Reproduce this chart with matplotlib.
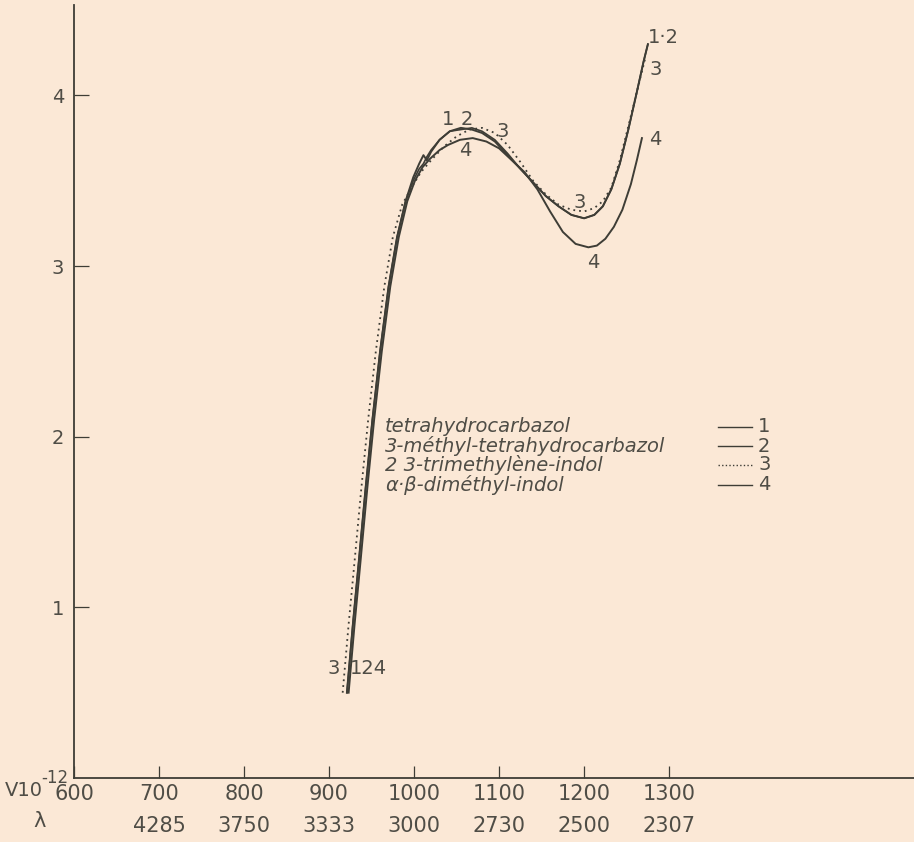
import matplotlib
matplotlib.use("Agg")
import matplotlib.pyplot as plt
from matplotlib import font_manager
from matplotlib.lines import Line2D

# frequency nu (x 10^12) and log extinction
x1 = [921, 928, 935, 943, 951, 960, 970, 980, 990, 999, 1006, 1011, 1015, 1020, 1030, 1042,
      1055, 1068, 1080, 1095, 1110, 1125, 1140, 1155, 1170, 1185, 1200, 1212, 1222, 1232,
      1242, 1252, 1262, 1270, 1275]
y1 = [0.5, 0.9, 1.27, 1.7, 2.1, 2.5, 2.88, 3.17, 3.38, 3.52, 3.6, 3.65, 3.62, 3.67, 3.74, 3.79,
      3.81, 3.80, 3.78, 3.73, 3.65, 3.57, 3.49, 3.41, 3.35, 3.30, 3.28, 3.30, 3.35, 3.45,
      3.6, 3.8, 4.02, 4.2, 4.3]
x2 = x1
y2 = [0.5, 0.9, 1.27, 1.7, 2.1, 2.5, 2.88, 3.17, 3.38, 3.5, 3.57, 3.6, 3.64, 3.68, 3.74, 3.79,
      3.80, 3.81, 3.79, 3.74, 3.66, 3.57, 3.49, 3.41, 3.35, 3.30, 3.28, 3.30, 3.35, 3.45,
      3.6, 3.8, 4.02, 4.2, 4.3]
x3 = [916, 923, 930, 938, 946, 955, 965, 975, 986, 997, 1008, 1020, 1035, 1050, 1065, 1080,
      1095, 1110, 1125, 1140, 1155, 1170, 1185, 1200, 1212, 1222, 1232, 1242, 1252, 1262, 1272]
y3 = [0.5, 0.9, 1.27, 1.7, 2.1, 2.5, 2.88, 3.17, 3.36, 3.46, 3.55, 3.62, 3.7, 3.76, 3.8, 3.81,
      3.78, 3.71, 3.61, 3.5, 3.42, 3.36, 3.33, 3.32, 3.34, 3.38, 3.46, 3.62, 3.82, 4.02, 4.22]
x4 = [923, 930, 937, 945, 953, 962, 972, 982, 992, 1001, 1010, 1019, 1030, 1040, 1054, 1069,
      1085, 1100, 1115, 1130, 1145, 1160, 1175, 1190, 1205, 1215, 1225, 1235, 1245, 1255,
      1262, 1268]
y4 = [0.5, 0.9, 1.27, 1.7, 2.1, 2.5, 2.88, 3.17, 3.38, 3.5, 3.58, 3.63, 3.68, 3.71, 3.74, 3.75,
      3.73, 3.69, 3.62, 3.55, 3.45, 3.32, 3.2, 3.13, 3.11, 3.12, 3.16, 3.23, 3.33, 3.48,
      3.62, 3.75]

nu_ticks = [600, 700, 800, 900, 1000, 1100, 1200, 1300]
lambda_labels = ["", "4285", "3750", "3333", "3000", "2730", "2500", "2307"]
y_ticks = [1, 2, 3, 4]

names = ["tetrahydrocarbazol", "3-méthyl-tetrahydrocarbazol",
         "2 3-trimethylène-indol", "α·β-diméthyl-indol"]
numbers = ["1", "2", "3", "4"]

paper = "#fbe8d6"
ink = "#3e3d36"
txt = "#4f4d46"

# narrow face for the numbers if there is one
have = {f.name for f in font_manager.fontManager.ttflist}
num_font = "Liberation Sans Narrow" if "Liberation Sans Narrow" in have else "DejaVu Sans"

fig = plt.figure(figsize=(9.14, 8.42), dpi=100, facecolor=paper)
ax = fig.add_axes([74/914, 1 - 778/842, 1 - 74/914, 773/842])
ax.set_facecolor(paper)

ax.plot(x1, y1, color=ink, lw=1.4)
ax.plot(x2, y2, color=ink, lw=1.2)
ax.plot(x3, y3, color=ink, lw=1.3, ls=(0, (1, 2.2)))
ax.plot(x4, y4, color=ink, lw=1.4)

ax.set_xlim(600, 1588)
ax.set_ylim(0, 4.53)
for s in ["top", "right"]:
    ax.spines[s].set_visible(False)
for s in ["left", "bottom"]:
    ax.spines[s].set_color(ink)
    ax.spines[s].set_linewidth(1.3)

ax.set_xticks(nu_ticks)
ax.set_xticklabels([str(v) for v in nu_ticks], fontfamily=num_font)
ax.set_yticks(y_ticks)
ax.set_yticklabels([str(v) for v in y_ticks], fontfamily=num_font)
ax.tick_params(axis="x", direction="in", length=9, width=0.9, colors=ink,
               labelcolor=txt, labelsize=15, pad=4)
ax.tick_params(axis="y", direction="in", length=11, width=0.9, colors=ink,
               labelcolor=txt, labelsize=14, pad=7)

# second row of labels: wavelength
for v, lab in zip(nu_ticks, lambda_labels):
    ax.text(v, -0.28, lab, ha="center", va="center", fontsize=15, color=txt,
            fontfamily=num_font, clip_on=False)
fig.text(40/914, 1 - 821/842, "λ", fontsize=15, color=txt, ha="center", va="center")
fig.text(5/914, 1 - 791/842, "V10", fontsize=14, color=txt, ha="left", va="center",
         fontfamily=num_font)
fig.text(41/914, 1 - 778/842, "-12", fontsize=12, color=txt, ha="left", va="center",
         fontfamily=num_font)

# curve labels
cl = dict(fontsize=14, color=txt, ha="center", va="center", fontfamily=num_font)
ax.text(1040, 3.86, "1", **cl)
ax.text(1062, 3.86, "2", **cl)
ax.text(1104, 3.79, "3", **cl)
ax.text(1060, 3.68, "4", **cl)
ax.text(1293, 4.34, "1·2", **cl)
ax.text(1284, 4.15, "3", **cl)
ax.text(1284, 3.74, "4", **cl)
ax.text(1195, 3.37, "3", **cl)
ax.text(1211, 3.02, "4", **cl)
ax.text(905, 0.64, "3", **cl)
ax.text(946, 0.64, "124", **cl)

# legend drawn by hand
rows = [427, 446, 465, 485]
styles = ["-", "-", (0, (1, 1.6)), "-"]
for name, num, row, st in zip(names, numbers, rows, styles):
    yf = 1 - row/842
    fig.text(385/914, yf, name, fontsize=14, style="italic", color=txt,
             ha="left", va="center")
    fig.add_artist(Line2D([718/914, 752/914], [yf, yf], color=ink, lw=1.0, ls=st))
    fig.text(758/914, yf, num, fontsize=14, color=txt, ha="left", va="center",
             fontfamily=num_font)

fig.savefig("out.png", dpi=100, facecolor=paper)
